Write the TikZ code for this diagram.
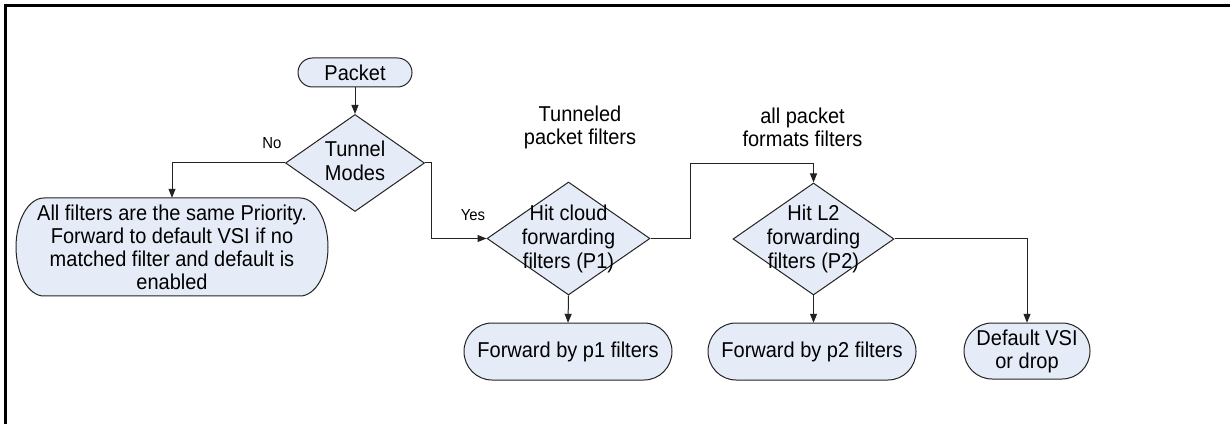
\documentclass[tikz,border=0pt]{standalone}
\usepackage{fontspec}
\setmainfont{Liberation Sans}[FakeStretch=0.93]
\usetikzlibrary{shapes.geometric,arrows.meta}
\definecolor{boxfill}{RGB}{230,236,247}
\definecolor{edgecol}{RGB}{35,35,35}
\tikzset{
  termline/.style={draw=edgecol, fill=boxfill, line width=1pt},
  termtext/.style={inner sep=0pt, align=center, font=\fontsize{21.5}{23}\selectfont},
  dia/.style={diamond, draw=edgecol, fill=boxfill, line width=1pt, inner sep=0pt, aspect=1},
  diatext/.style={inner sep=0pt, align=center, font=\fontsize{21.5}{24}\selectfont},
  lbl/.style={inner sep=0pt, align=center, font=\fontsize{21.5}{23.5}\selectfont},
  small/.style={inner sep=0pt, font=\fontsize{16}{18}\selectfont},
  conn/.style={draw=edgecol, line width=1pt, -{Triangle[length=9pt,width=7pt]}},
}
\newcommand{\termbox}[7]{%
  \draw[termline] ({#2-#4/2+#6},{#3+#5/2}) -- ({#2+#4/2-#6},{#3+#5/2})
    arc[start angle=90,end angle=-90,x radius=#6pt,y radius=#5pt/2]
    -- ({#2-#4/2+#6},{#3-#5/2})
    arc[start angle=270,end angle=90,x radius=#6pt,y radius=#5pt/2] -- cycle;
  \node[termtext, minimum width=#4pt, minimum height=#5pt] (#1) at (#2,#3) {#7};
}
\begin{document}
\begin{tikzpicture}[x=1pt,y=1pt]
\useasboundingbox (0,0) rectangle (1230,423);
% frame (open to right and bottom)
\draw[line width=2.5pt, black] (5.5,-10) -- (5.5,417.5) -- (1240,417.5);

% terminals
\termbox{packet}{355}{350.5}{114}{29}{14.5}{Packet}
\termbox{all}{172}{176}{312}{98}{28}{All filters are the same Priority.\\Forward to default VSI if no\\matched filter and default is\\enabled}
\termbox{fwd1}{568}{71.5}{208}{57}{28}{Forward by p1 filters}
\termbox{fwd2}{812}{71.5}{208}{57}{28}{Forward by p2 filters}
\termbox{dflt}{1027}{72}{126}{56}{28}{Default VSI\\or drop}

% decisions
\node[dia, minimum width=139pt, minimum height=97pt] (tun) at (355,260) {};
\node[diatext] (tuntxt) at ([yshift=2pt]tun.center) {Tunnel\\Modes};
\node[dia, minimum width=163pt, minimum height=113pt] (hit1) at (568.5,184.5) {};
\node[diatext] (hit1txt) at (hit1.center) {Hit cloud\\forwarding\\filters (P1)};
\node[dia, minimum width=161pt, minimum height=112pt] (hit2) at (813.5,184) {};
\node[diatext] (hit2txt) at (hit2.center) {Hit L2\\forwarding\\filters (P2)};

% labels
\node[small] (no) at (272,280) {No};
\node[small] (yes) at (473,208) {Yes};
\node[lbl] (tunlbl) at (580,295.5) {Tunneled\\packet filters};
\node[lbl] (alllbl) at (802.5,295.5) {all packet\\formats filters};

% connectors
\coordinate (yesbend) at (431,260);
\coordinate (p1bend) at (690,184.5);
\coordinate (p1top) at (690,259);
\draw[conn] (packet.south) -- (tun.north);
\draw[conn] (tun.west) -| (all.north);
\draw[conn] (tun.east) -- (yesbend) |- (hit1.west);
\draw[conn] (hit1.south) -- (fwd1.north);
\draw[conn] (hit1.east) -- (p1bend) -- (p1top) -| (hit2.north);
\draw[conn] (hit2.south) -- (fwd2.north -| hit2.south);
\draw[conn] (hit2.east) -| (dflt.north);
\end{tikzpicture}
\end{document}
